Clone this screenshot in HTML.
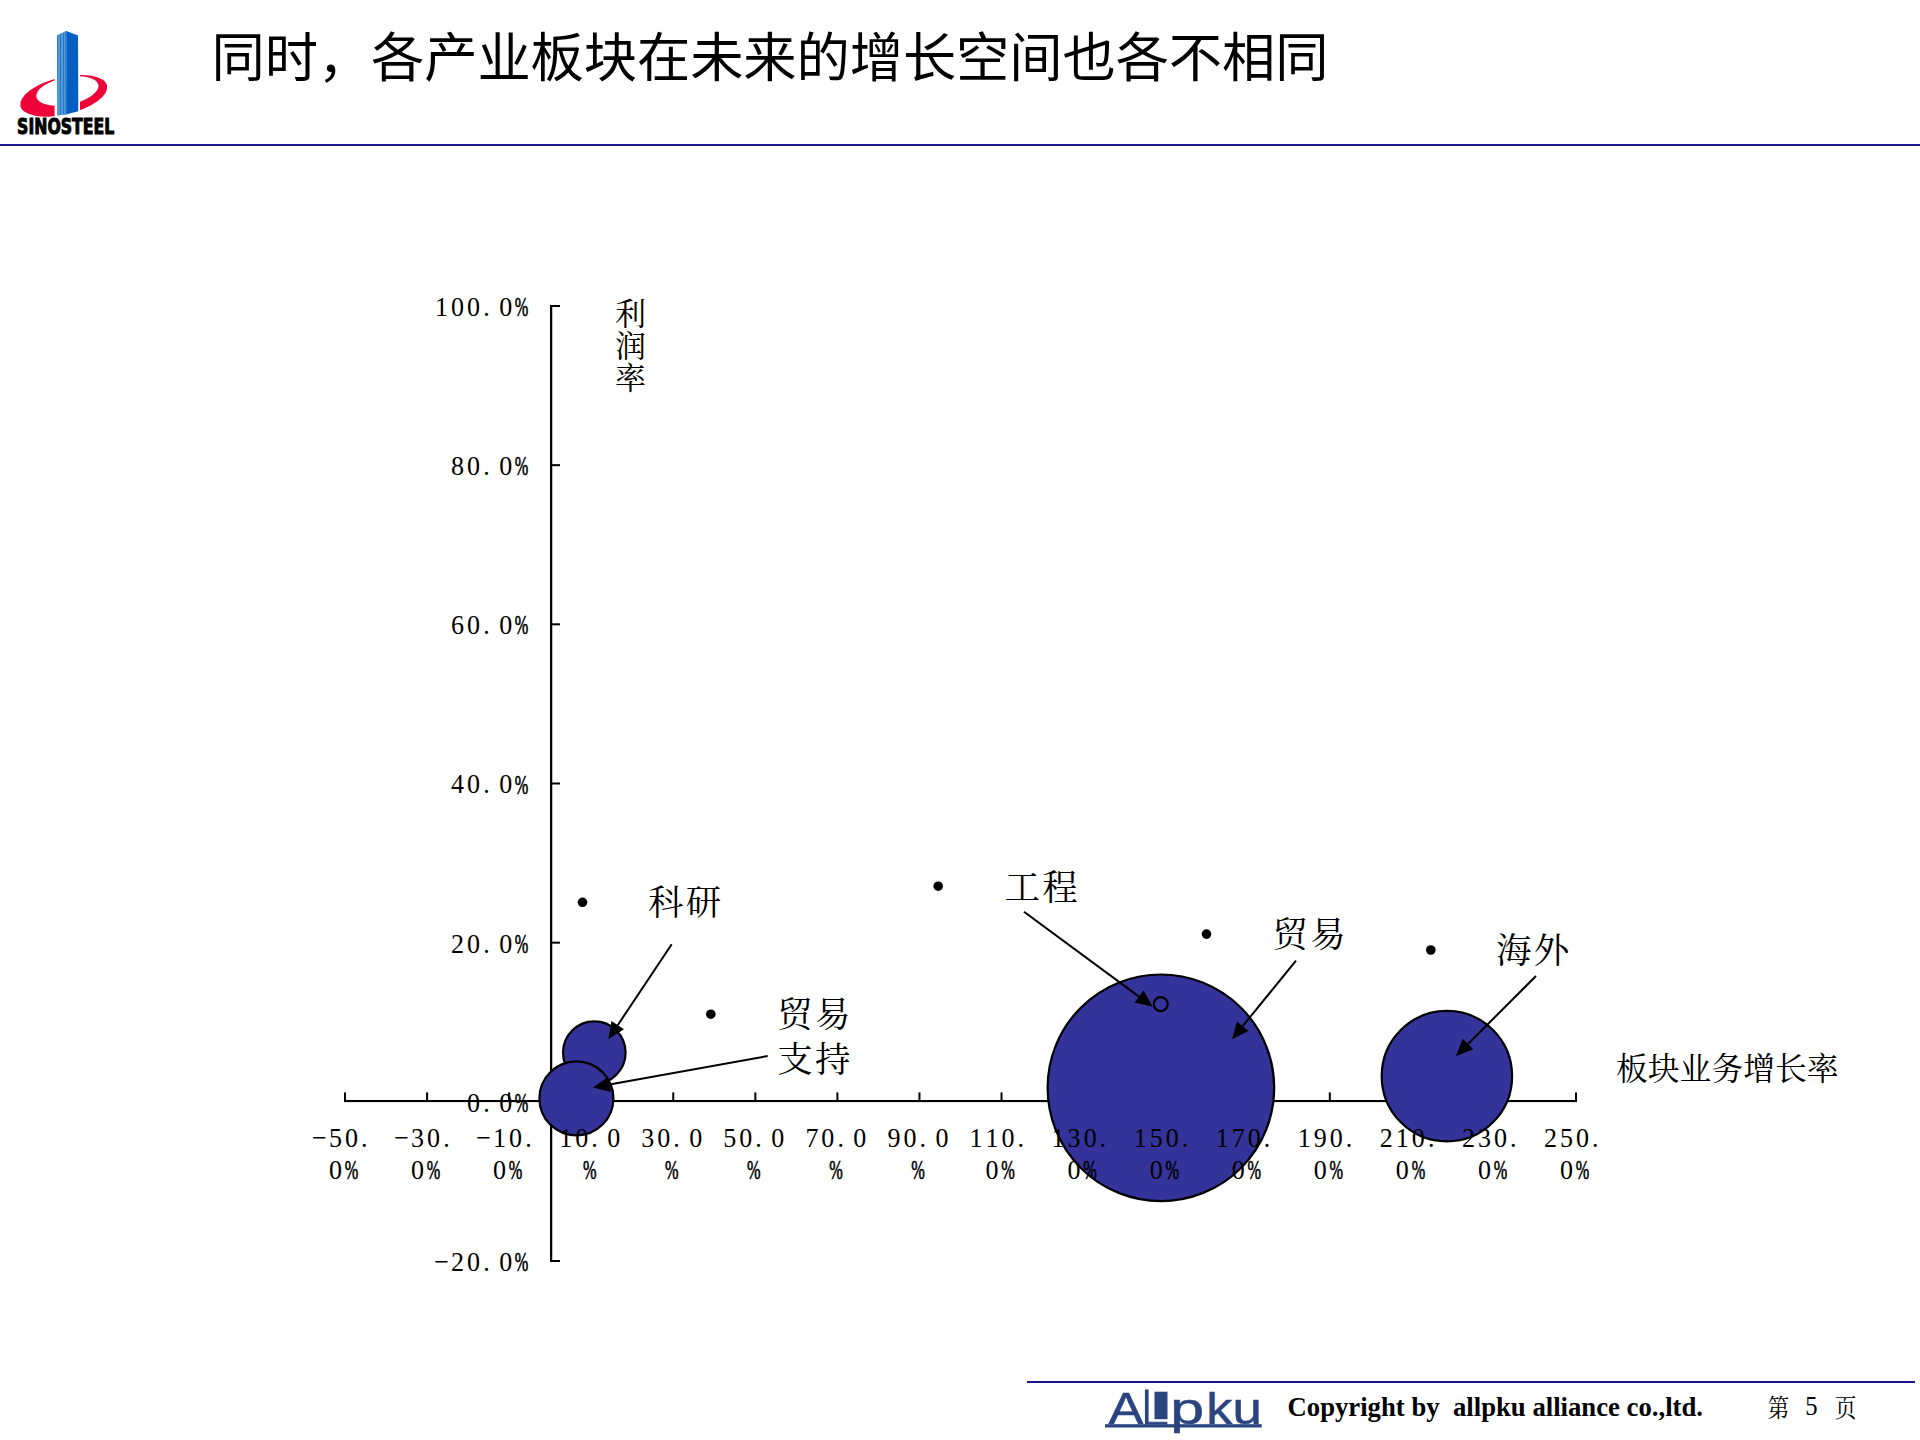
<!DOCTYPE html>
<html lang="zh-CN">
<head>
<meta charset="utf-8">
<title>同时，各产业板块在未来的增长空间也各不相同</title>
<style>
html,body{margin:0;padding:0;background:#fff;}
body{width:1920px;height:1440px;overflow:hidden;position:relative;}
svg{position:absolute;left:0;top:0;display:block;}
.title{font-family:"Liberation Sans","Noto Sans CJK SC",sans-serif;font-size:53.3px;fill:#000;}
.num{font-family:"Liberation Serif","Noto Serif CJK SC",serif;font-size:28px;fill:#000;}
.pc{stroke:#000;stroke-width:0.7px;}
.cn{font-family:"Liberation Serif","Noto Serif CJK SC",serif;font-weight:400;fill:#000;}
.axr{fill:#000;}
.bub{fill:#333399;stroke:#000;stroke-width:2.2;}
</style>
</head>
<body>
<svg width="1920" height="1440" viewBox="0 0 1920 1440">
<!-- HEADER -->
<g id="header">
<text class="title" x="211.5" y="77.3" textLength="1117" lengthAdjust="spacing">同时，各产业板块在未来的增长空间也各不相同</text>
<rect x="0" y="144" width="1920" height="2" fill="#1a1a8c"/>
</g>
<!-- LOGO -->
<g id="logo">
<g id="swoosh">
<ellipse cx="63.7" cy="95.8" rx="44.5" ry="18.67" fill="#ee0438" transform="rotate(-13.45 63.7 95.8)"/>
<ellipse cx="67.4" cy="90.95" rx="31.67" ry="13.59" fill="#fff" transform="rotate(-11.2 67.4 90.95)"/>
<rect x="54.6" y="70" width="25.4" height="50" fill="#fff"/>
</g>
<g id="tower">
<clipPath id="lf"><polygon points="57,35.45 66.35,31 66.8,114.2 57.3,115.4"/></clipPath>
<polygon points="57,35.45 66.35,31 66.8,114.2 57.3,115.4" fill="#2370c2"/>
<g clip-path="url(#lf)" fill="#539ad8">
<rect x="58" y="30" width="1.9" height="90"/>
<rect x="60.8" y="30" width="2.25" height="90"/>
<rect x="63.9" y="30" width="1.6" height="90"/>
<rect x="65.5" y="30" width="1.5" height="90" fill="#2f7dca"/>
</g>
<polygon points="66.35,31 78,35.4 78.3,111.25 66.8,114.2" fill="#055ec1"/>
</g>
<text x="17.1" y="133.5" font-family="'DejaVu Sans',sans-serif" font-weight="700" font-size="20.5" textLength="97.2" lengthAdjust="spacingAndGlyphs" fill="#000" stroke="#000" stroke-width="1">SINOSTEEL</text>

</g>
<!-- CHART -->
<g id="chart">
<g id="axes">
<rect class="axr" x="550" y="305" width="2.25" height="957"/>
<rect class="axr" x="550" y="305.00" width="10" height="2"/>
<rect class="axr" x="550" y="464.17" width="10" height="2"/>
<rect class="axr" x="550" y="623.33" width="10" height="2"/>
<rect class="axr" x="550" y="782.50" width="10" height="2"/>
<rect class="axr" x="550" y="941.67" width="10" height="2"/>
<rect class="axr" x="550" y="1100.83" width="10" height="2"/>
<rect class="axr" x="550" y="1260.00" width="10" height="2"/>
<rect class="axr" x="344" y="1100" width="1233" height="2.1"/>
<rect class="axr" x="344.00" y="1092.4" width="2" height="9"/>
<rect class="axr" x="426.07" y="1092.4" width="2" height="9"/>
<rect class="axr" x="508.13" y="1092.4" width="2" height="9"/>
<rect class="axr" x="590.20" y="1092.4" width="2" height="9"/>
<rect class="axr" x="672.27" y="1092.4" width="2" height="9"/>
<rect class="axr" x="754.33" y="1092.4" width="2" height="9"/>
<rect class="axr" x="836.40" y="1092.4" width="2" height="9"/>
<rect class="axr" x="918.47" y="1092.4" width="2" height="9"/>
<rect class="axr" x="1000.53" y="1092.4" width="2" height="9"/>
<rect class="axr" x="1082.60" y="1092.4" width="2" height="9"/>
<rect class="axr" x="1164.67" y="1092.4" width="2" height="9"/>
<rect class="axr" x="1246.73" y="1092.4" width="2" height="9"/>
<rect class="axr" x="1328.80" y="1092.4" width="2" height="9"/>
<rect class="axr" x="1410.87" y="1092.4" width="2" height="9"/>
<rect class="axr" x="1492.93" y="1092.4" width="2" height="9"/>
<rect class="axr" x="1575.00" y="1092.4" width="2" height="9"/>
</g>
<g id="bubbles">
<circle class="bub" cx="594.3" cy="1052.6" r="31.3"/>
<circle class="bub" cx="576.4" cy="1098.4" r="37.0"/>
<circle class="bub" cx="1160.9" cy="1087.8" r="113.3"/>
<circle class="bub" cx="1446.9" cy="1076.15" r="65.2"/>
<circle class="bub" cx="1160.7" cy="1004.2" r="7.0" style="stroke-width:2.3"/>
</g>
<g id="axis-labels">
<text class="num" text-anchor="middle" transform="scale(0.93,1)" y="316.0" x="474.8 492.0 509.2 523.0 543.7">100.0</text><text class="num pc" transform="translate(521.6,316.0) scale(0.58,1)" text-anchor="middle">%</text>
<text class="num" text-anchor="middle" transform="scale(0.93,1)" y="475.2" x="492.0 509.2 523.0 543.7">80.0</text><text class="num pc" transform="translate(521.6,475.2) scale(0.58,1)" text-anchor="middle">%</text>
<text class="num" text-anchor="middle" transform="scale(0.93,1)" y="634.3" x="492.0 509.2 523.0 543.7">60.0</text><text class="num pc" transform="translate(521.6,634.3) scale(0.58,1)" text-anchor="middle">%</text>
<text class="num" text-anchor="middle" transform="scale(0.93,1)" y="793.5" x="492.0 509.2 523.0 543.7">40.0</text><text class="num pc" transform="translate(521.6,793.5) scale(0.58,1)" text-anchor="middle">%</text>
<text class="num" text-anchor="middle" transform="scale(0.93,1)" y="952.7" x="492.0 509.2 523.0 543.7">20.0</text><text class="num pc" transform="translate(521.6,952.7) scale(0.58,1)" text-anchor="middle">%</text>
<text class="num" text-anchor="middle" transform="scale(0.93,1)" y="1111.8" x="509.2 523.0 543.7">0.0</text><text class="num pc" transform="translate(521.6,1111.8) scale(0.58,1)" text-anchor="middle">%</text>
<text class="num" text-anchor="middle" transform="scale(0.93,1)" y="1271.0" x="474.8 492.0 509.2 523.0 543.7">−20.0</text><text class="num pc" transform="translate(521.6,1271.0) scale(0.58,1)" text-anchor="middle">%</text>
<text class="num" text-anchor="middle" transform="scale(0.93,1)" y="1146.6" x="343.5 360.8 378.0 391.7">−50.</text>
<text class="num" text-anchor="middle" transform="scale(0.93,1)" y="1179.1" x="360.8">0</text><text class="num pc" transform="translate(351.5,1179.1) scale(0.58,1)" text-anchor="middle">%</text>
<text class="num" text-anchor="middle" transform="scale(0.93,1)" y="1146.6" x="431.8 449.0 466.2 480.0">−30.</text>
<text class="num" text-anchor="middle" transform="scale(0.93,1)" y="1179.1" x="449.0">0</text><text class="num pc" transform="translate(433.6,1179.1) scale(0.58,1)" text-anchor="middle">%</text>
<text class="num" text-anchor="middle" transform="scale(0.93,1)" y="1146.6" x="520.0 537.2 554.4 568.2">−10.</text>
<text class="num" text-anchor="middle" transform="scale(0.93,1)" y="1179.1" x="537.2">0</text><text class="num pc" transform="translate(515.6,1179.1) scale(0.58,1)" text-anchor="middle">%</text>
<text class="num" text-anchor="middle" transform="scale(0.93,1)" y="1146.6" x="608.3 625.5 639.2 659.9">10.0</text>
<text class="num pc" transform="translate(589.7,1179.1) scale(0.58,1)" text-anchor="middle">%</text>
<text class="num" text-anchor="middle" transform="scale(0.93,1)" y="1146.6" x="696.5 713.7 727.5 748.1">30.0</text>
<text class="num pc" transform="translate(671.8,1179.1) scale(0.58,1)" text-anchor="middle">%</text>
<text class="num" text-anchor="middle" transform="scale(0.93,1)" y="1146.6" x="784.8 802.0 815.7 836.4">50.0</text>
<text class="num pc" transform="translate(753.8,1179.1) scale(0.58,1)" text-anchor="middle">%</text>
<text class="num" text-anchor="middle" transform="scale(0.93,1)" y="1146.6" x="873.0 890.2 904.0 924.6">70.0</text>
<text class="num pc" transform="translate(835.9,1179.1) scale(0.58,1)" text-anchor="middle">%</text>
<text class="num" text-anchor="middle" transform="scale(0.93,1)" y="1146.6" x="961.3 978.5 992.2 1012.9">90.0</text>
<text class="num pc" transform="translate(918.0,1179.1) scale(0.58,1)" text-anchor="middle">%</text>
<text class="num" text-anchor="middle" transform="scale(0.93,1)" y="1146.6" x="1049.5 1066.7 1083.9 1097.7">110.</text>
<text class="num" text-anchor="middle" transform="scale(0.93,1)" y="1179.1" x="1066.7">0</text><text class="num pc" transform="translate(1008.0,1179.1) scale(0.58,1)" text-anchor="middle">%</text>
<text class="num" text-anchor="middle" transform="scale(0.93,1)" y="1146.6" x="1137.7 1154.9 1172.2 1185.9">130.</text>
<text class="num" text-anchor="middle" transform="scale(0.93,1)" y="1179.1" x="1154.9">0</text><text class="num pc" transform="translate(1090.1,1179.1) scale(0.58,1)" text-anchor="middle">%</text>
<text class="num" text-anchor="middle" transform="scale(0.93,1)" y="1146.6" x="1226.0 1243.2 1260.4 1274.2">150.</text>
<text class="num" text-anchor="middle" transform="scale(0.93,1)" y="1179.1" x="1243.2">0</text><text class="num pc" transform="translate(1172.2,1179.1) scale(0.58,1)" text-anchor="middle">%</text>
<text class="num" text-anchor="middle" transform="scale(0.93,1)" y="1146.6" x="1314.2 1331.4 1348.6 1362.4">170.</text>
<text class="num" text-anchor="middle" transform="scale(0.93,1)" y="1179.1" x="1331.4">0</text><text class="num pc" transform="translate(1254.2,1179.1) scale(0.58,1)" text-anchor="middle">%</text>
<text class="num" text-anchor="middle" transform="scale(0.93,1)" y="1146.6" x="1402.5 1419.7 1436.9 1450.6">190.</text>
<text class="num" text-anchor="middle" transform="scale(0.93,1)" y="1179.1" x="1419.7">0</text><text class="num pc" transform="translate(1336.3,1179.1) scale(0.58,1)" text-anchor="middle">%</text>
<text class="num" text-anchor="middle" transform="scale(0.93,1)" y="1146.6" x="1490.7 1507.9 1525.1 1538.9">210.</text>
<text class="num" text-anchor="middle" transform="scale(0.93,1)" y="1179.1" x="1507.9">0</text><text class="num pc" transform="translate(1418.4,1179.1) scale(0.58,1)" text-anchor="middle">%</text>
<text class="num" text-anchor="middle" transform="scale(0.93,1)" y="1146.6" x="1579.0 1596.2 1613.4 1627.1">230.</text>
<text class="num" text-anchor="middle" transform="scale(0.93,1)" y="1179.1" x="1596.2">0</text><text class="num pc" transform="translate(1500.4,1179.1) scale(0.58,1)" text-anchor="middle">%</text>
<text class="num" text-anchor="middle" transform="scale(0.93,1)" y="1146.6" x="1667.2 1684.4 1701.6 1715.4">250.</text>
<text class="num" text-anchor="middle" transform="scale(0.93,1)" y="1179.1" x="1684.4">0</text><text class="num pc" transform="translate(1582.5,1179.1) scale(0.58,1)" text-anchor="middle">%</text>
</g>
<g id="annotations">
<path d="M671.7,944.3L617.7,1025.2" stroke="#000" stroke-width="2.0" fill="none"/><path d="M608.3,1039.3L611.5,1021.0L624.0,1029.3Z" fill="#000"/>
<path d="M767.7,1056.0L609.5,1084.5" stroke="#000" stroke-width="2.0" fill="none"/><path d="M592.8,1087.5L608.2,1077.1L610.9,1091.9Z" fill="#000"/>
<path d="M1024.0,911.7L1139.0,996.6" stroke="#000" stroke-width="2.0" fill="none"/><path d="M1152.7,1006.7L1134.6,1002.6L1143.5,990.6Z" fill="#000"/>
<path d="M1296.0,960.7L1242.7,1026.1" stroke="#000" stroke-width="2.0" fill="none"/><path d="M1232.0,1039.3L1236.9,1021.4L1248.5,1030.9Z" fill="#000"/>
<path d="M1536.0,976.0L1468.0,1044.0" stroke="#000" stroke-width="2.0" fill="none"/><path d="M1456.0,1056.0L1462.7,1038.7L1473.3,1049.3Z" fill="#000"/>
<circle cx="582.5" cy="902.3" r="4.8" fill="#000"/>
<circle cx="710.8" cy="1014.2" r="4.8" fill="#000"/>
<circle cx="938.2" cy="886.2" r="4.8" fill="#000"/>
<circle cx="1206.5" cy="934.1" r="4.8" fill="#000"/>
<circle cx="1430.8" cy="950.0" r="4.8" fill="#000"/>
<text class="cn" x="648" y="914.8" font-size="35.5" letter-spacing="2.2">科研</text>
<text class="cn" x="777.3" y="1026.5" font-size="35.5" letter-spacing="2.2">贸易</text>
<text class="cn" x="777.3" y="1072" font-size="35.5" letter-spacing="2.2">支持</text>
<text class="cn" x="1004.5" y="899.8" font-size="35.5" letter-spacing="2.2">工程</text>
<text class="cn" x="1272.5" y="947.3" font-size="35.5" letter-spacing="2.2">贸易</text>
<text class="cn" x="1496" y="962.8" font-size="35.5" letter-spacing="2.2">海外</text>
<text class="cn" x="1616" y="1080" font-size="31.8" >板块业务增长率</text>
<text class="cn" font-size="31" x="615" y="324.8">利<tspan x="615" y="357.1">润</tspan><tspan x="615" y="388.7">率</tspan></text>
</g>
</g>
<!-- FOOTER -->
<g id="footer">
<rect x="1027" y="1381" width="888" height="2" fill="#18188c"/>
<g id="allpku" fill="#2a4480" stroke="#2a4480" stroke-width="0.5" font-family="'Liberation Sans',sans-serif" font-size="44">
<text transform="translate(1108.4,1424.2) scale(1.19,1)">A</text>
<text transform="translate(1139,1424.2) scale(1.15,1)" font-family="'DejaVu Sans Light','DejaVu Sans',sans-serif" font-weight="200" font-size="46" stroke-width="0.9">L</text>
<rect x="1154.5" y="1391.7" width="13" height="27.5" stroke="none"/>
<text transform="translate(1170.2,1424.2) scale(1.38,1)">p</text>
<text transform="translate(1206.2,1424.2) scale(1.18,1)">k</text>
<text transform="translate(1232.5,1424.2) scale(1.2,1)">u</text>
<rect x="1105" y="1424.2" width="156.7" height="3.3" stroke="none"/>
</g>
<text x="1287.5" y="1416" font-family="'Liberation Serif',serif" font-weight="700" font-size="27" fill="#000" xml:space="preserve" textLength="415.5" lengthAdjust="spacingAndGlyphs">Copyright by  allpku alliance co.,ltd.</text>
<g id="pageno" fill="#000" font-family="'Liberation Serif','Noto Serif CJK SC',serif">
<text transform="translate(1767.4,1416.5) scale(0.87,1)" font-size="25">第</text>
<text transform="translate(1805.2,1415) scale(0.88,1)" font-size="28">5</text>
<text transform="translate(1834.8,1416.5) scale(0.87,1)" font-size="25">页</text>
</g>

</g>
</svg>
</body>
</html>
